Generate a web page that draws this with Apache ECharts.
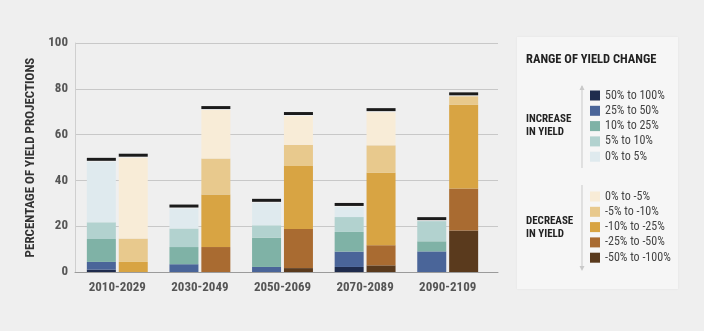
<!DOCTYPE html>
<html><head><meta charset="utf-8">
<script src="https://cdn.jsdelivr.net/npm/echarts@6/dist/echarts.min.js"></script>
<style>html,body{margin:0;padding:0;background:#efefef}#c{width:704px;height:331px}</style>
</head><body><div id="c"></div>
<script>
var categories = ['2010-2029','2030-2049','2050-2069','2070-2089','2090-2109'];
var yTicks = [0,20,40,60,80,100];
// increase series (bottom to top)
var incNames = ['50% to 100%','25% to 50%','10% to 25%','5% to 10%','0% to 5%'];
var inc50_100 = [1.0, 0.0, 0.0, 2.2, 0.0];
var inc25_50  = [3.4, 3.4, 2.2, 6.7, 9.0];
var inc10_25  = [10.0, 7.5, 12.8, 8.6, 4.4];
var inc5_10   = [7.3, 8.1, 5.4, 6.5, 8.8];
var inc0_5    = [26.4, 8.7, 9.8, 4.4, 0.0];
// decrease series (bottom to top)
var decNames = ['-50% to -100%','-25% to -50%','-10% to -25%','-5% to -10%','0% to -5%'];
var dec50_100 = [0.0, 0.0, 1.7, 2.9, 18.1];
var dec25_50  = [0.0, 10.9, 17.1, 8.8, 18.4];
var dec10_25  = [4.4, 22.9, 27.5, 31.6, 36.5];
var dec5_10   = [10.2, 15.8, 9.2, 12.0, 3.7];
var dec0_5    = [35.3, 21.1, 12.6, 14.5, 0.0];

var FONT = "'Roboto Condensed','Liberation Sans Narrow','DejaVu Sans Condensed',Roboto,sans-serif";
var incColors = ['#1f2c4d','#4a6599','#7fb2a6','#b2d2cf','#dfeaee'];
var decColors = ['#5a3a1d','#a96b31','#d8a443','#e8c98d','#f8ecd7'];
var CAP_GAP = 0.45, CAP_H = 1.3;

var incData = [inc50_100, inc25_50, inc10_25, inc5_10, inc0_5];
var decData = [dec50_100, dec25_50, dec10_25, dec5_10, dec0_5];
var series = [];
function addStack(names, data, colors, stack){
  for (var i=0;i<names.length;i++){
    series.push({type:'bar', name:names[i], stack:stack, xAxisIndex:1, yAxisIndex:1,
      barWidth:29, barGap:'10%', data:data[i], itemStyle:{color:colors[i]}, silent:true});
  }
  series.push({type:'bar', name:stack+'gap', stack:stack, xAxisIndex:1, yAxisIndex:1, barWidth:29, barGap:'10%',
    data:categories.map(function(){return CAP_GAP;}), itemStyle:{color:'rgba(0,0,0,0)'}});
  series.push({type:'bar', name:stack+'cap', stack:stack, xAxisIndex:1, yAxisIndex:1, barWidth:29, barGap:'10%',
    data:categories.map(function(){return CAP_H;}), itemStyle:{color:'#1b1b1b'}});
}
addStack(incNames, incData, incColors, 'inc');
addStack(decNames, decData, decColors, 'dec');

var chart = echarts.init(document.getElementById('c'), null, {renderer:'canvas'});
var legendText = {fontFamily:FONT, fontSize:12, color:'#444', lineHeight:15};
chart.setOption({
  backgroundColor:'#efefef',
  animation:false,
  grid:[
    {left:75, right:206, top:43, bottom:59},
    {left:76, right:215, top:43, bottom:59}
  ],
  xAxis:[
    {type:'value', gridIndex:0, min:0, max:1, axisLabel:{show:false}, axisTick:{show:false}, splitLine:{show:false},
     axisLine:{show:true, lineStyle:{color:'#9b9b9b', width:1}}},
    {type:'category', gridIndex:1, data:categories, axisLine:{show:false}, axisTick:{show:false},
     axisLabel:{fontFamily:FONT, fontSize:13, fontWeight:'bold', color:'#555', margin:9}}
  ],
  yAxis:[
    {type:'value', gridIndex:0, min:yTicks[0], max:yTicks[yTicks.length-1], interval:20,
     axisLine:{show:true, lineStyle:{color:'#cfcfcf'}}, axisTick:{show:false},
     splitLine:{lineStyle:{color:'#c8c8c8'}},
     axisLabel:{fontFamily:FONT, fontSize:13, fontWeight:'bold', color:'#555', margin:7},
     name:'PERCENTAGE OF YIELD PROJECTIONS', nameLocation:'middle', nameRotate:90, nameGap:37,
     nameTextStyle:{fontFamily:FONT, fontSize:13, fontWeight:'bold', color:'#333'}},
    {type:'value', gridIndex:1, min:0, max:100, show:false}
  ],
  legend:[
    {orient:'vertical', left:590, top:88, padding:0, itemWidth:10, itemHeight:10, itemGap:0.3,
     icon:'rect', selectedMode:false, data:incNames.slice(), textStyle:legendText},
    {orient:'vertical', left:590, top:189, padding:0, itemWidth:10, itemHeight:10, itemGap:0.3,
     icon:'rect', selectedMode:false, data:decNames.slice().reverse(), textStyle:legendText}
  ],
  graphic:[
    {type:'rect', z:-1, shape:{x:517, y:37, width:161, height:252}, style:{fill:'#f6f6f6', shadowBlur:2, shadowColor:'rgba(0,0,0,0.06)'}},
    {type:'text', left:526, top:53, style:{text:'RANGE OF YIELD CHANGE', font:'bold 12.5px '+FONT, fill:'#222'}},
    {type:'text', left:526, top:112, style:{text:'INCREASE\nIN YIELD', font:'bold 11px '+FONT, fill:'#222', lineHeight:13.5}},
    {type:'text', left:526, top:214, style:{text:'DECREASE\nIN YIELD', font:'bold 11px '+FONT, fill:'#222', lineHeight:13.5}},
    {type:'line', shape:{x1:582, y1:86, x2:582, y2:168}, style:{stroke:'#c9c9c9', lineWidth:1}},
    {type:'polygon', shape:{points:[[579.5,90],[584.5,90],[582,85]]}, style:{fill:'#c9c9c9'}},
    {type:'line', shape:{x1:582, y1:185, x2:582, y2:269}, style:{stroke:'#c9c9c9', lineWidth:1}},
    {type:'polygon', shape:{points:[[579.5,266],[584.5,266],[582,271]]}, style:{fill:'#c9c9c9'}}
  ],
  series:series
});
</script></body></html>
